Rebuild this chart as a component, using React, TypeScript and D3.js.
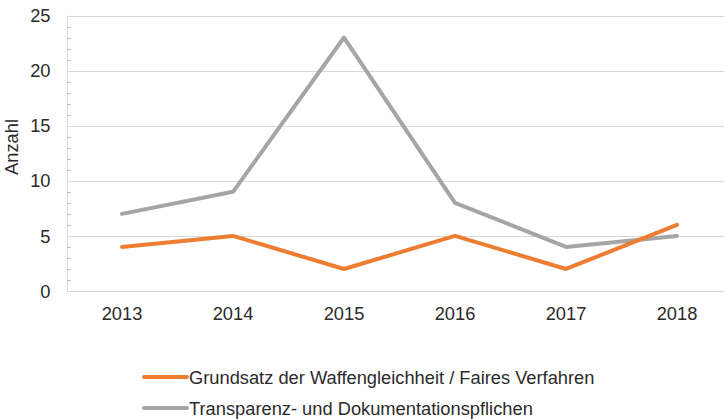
import * as d3 from 'd3';
import React from 'react';

const years = ['2013', '2014', '2015', '2016', '2017', '2018'];
const fairness = [4, 5, 2, 5, 2, 6];
const transparency = [7, 9, 23, 8, 4, 5];
const yTicks = [0, 5, 10, 15, 20, 25];
const seriesNames = [
  'Grundsatz der Waffengleichheit / Faires Verfahren',
  'Transparenz- und Dokumentationspflichen',
];
const seriesColors = ['#ED7D31', '#A5A5A5'];

export default function App() {
  const ref = React.useRef<SVGSVGElement>(null);
  const width = 724;
  const height = 419;

  React.useEffect(() => {
    if (!ref.current) return;
    const svg = d3.select(ref.current);
    svg.selectAll('*').remove();

    const font = "'Liberation Sans', Arial, sans-serif";
    const fs = 18.3;
    const textColor = '#2b2b2b';
    const left = 67;
    const x = d3.scalePoint<string>().domain(years).range([122, 677]);
    const y = d3.scaleLinear().domain([0, 25]).range([291, 15.5]);

    // gridlines
    svg
      .append('g')
      .selectAll('line')
      .data(yTicks)
      .enter()
      .append('line')
      .attr('x1', left)
      .attr('x2', width)
      .attr('y1', (d) => Math.round(y(d)) + 0.5)
      .attr('y2', (d) => Math.round(y(d)) + 0.5)
      .attr('stroke', '#D9D9D9')
      .attr('stroke-width', 1);

    // y axis line + minor ticks
    svg
      .append('line')
      .attr('x1', left + 0.5)
      .attr('x2', left + 0.5)
      .attr('y1', y(25))
      .attr('y2', y(0))
      .attr('stroke', '#D9D9D9');
    svg
      .append('g')
      .selectAll('line')
      .data(d3.range(0, 26).filter((v) => v % 5 !== 0))
      .enter()
      .append('line')
      .attr('x1', left)
      .attr('x2', left + 4)
      .attr('y1', (d) => Math.round(y(d)) + 0.5)
      .attr('y2', (d) => Math.round(y(d)) + 0.5)
      .attr('stroke', '#BFBFBF');

    // y tick labels
    svg
      .append('g')
      .selectAll('text')
      .data(yTicks)
      .enter()
      .append('text')
      .attr('x', 50.5)
      .attr('y', (d) => y(d) + 6.6)
      .attr('text-anchor', 'end')
      .attr('font-family', font)
      .attr('font-size', fs)
      .attr('fill', textColor)
      .text((d) => d);

    // x labels
    svg
      .append('g')
      .selectAll('text')
      .data(years)
      .enter()
      .append('text')
      .attr('x', (d) => x(d)!)
      .attr('y', 320)
      .attr('text-anchor', 'middle')
      .attr('font-family', font)
      .attr('font-size', fs)
      .attr('fill', textColor)
      .text((d) => d);

    // axis title
    svg
      .append('text')
      .attr('transform', `translate(18,147) rotate(-90)`)
      .attr('text-anchor', 'middle')
      .attr('font-family', font)
      .attr('font-size', fs)
      .attr('fill', textColor)
      .text('Anzahl');

    const line = d3
      .line<number>()
      .x((_, i) => x(years[i])!)
      .y((d) => y(d));

    [transparency, fairness].forEach((s, k) => {
      const color = k === 0 ? seriesColors[1] : seriesColors[0];
      svg
        .append('path')
        .datum(s)
        .attr('fill', 'none')
        .attr('stroke', color)
        .attr('stroke-width', 4)
        .attr('stroke-linecap', 'round')
        .attr('stroke-linejoin', 'round')
        .attr('d', line);
    });

    // legend
    const legend = svg.append('g');
    seriesNames.forEach((name, i) => {
      const ly = 377 + i * 31;
      legend
        .append('line')
        .attr('x1', 144)
        .attr('x2', 187)
        .attr('y1', ly)
        .attr('y2', ly)
        .attr('stroke', seriesColors[i])
        .attr('stroke-width', 4)
        .attr('stroke-linecap', 'round');
      legend
        .append('text')
        .attr('x', 189)
        .attr('y', ly + 7.2)
        .attr('font-family', font)
        .attr('font-size', fs)
        .attr('fill', textColor)
        .text(name);
    });
  }, []);

  return (
    <div style={{ position: 'absolute', left: 0, top: 0 }}>
      <svg ref={ref} width={width} height={height} style={{ display: 'block' }} />
    </div>
  );
}
